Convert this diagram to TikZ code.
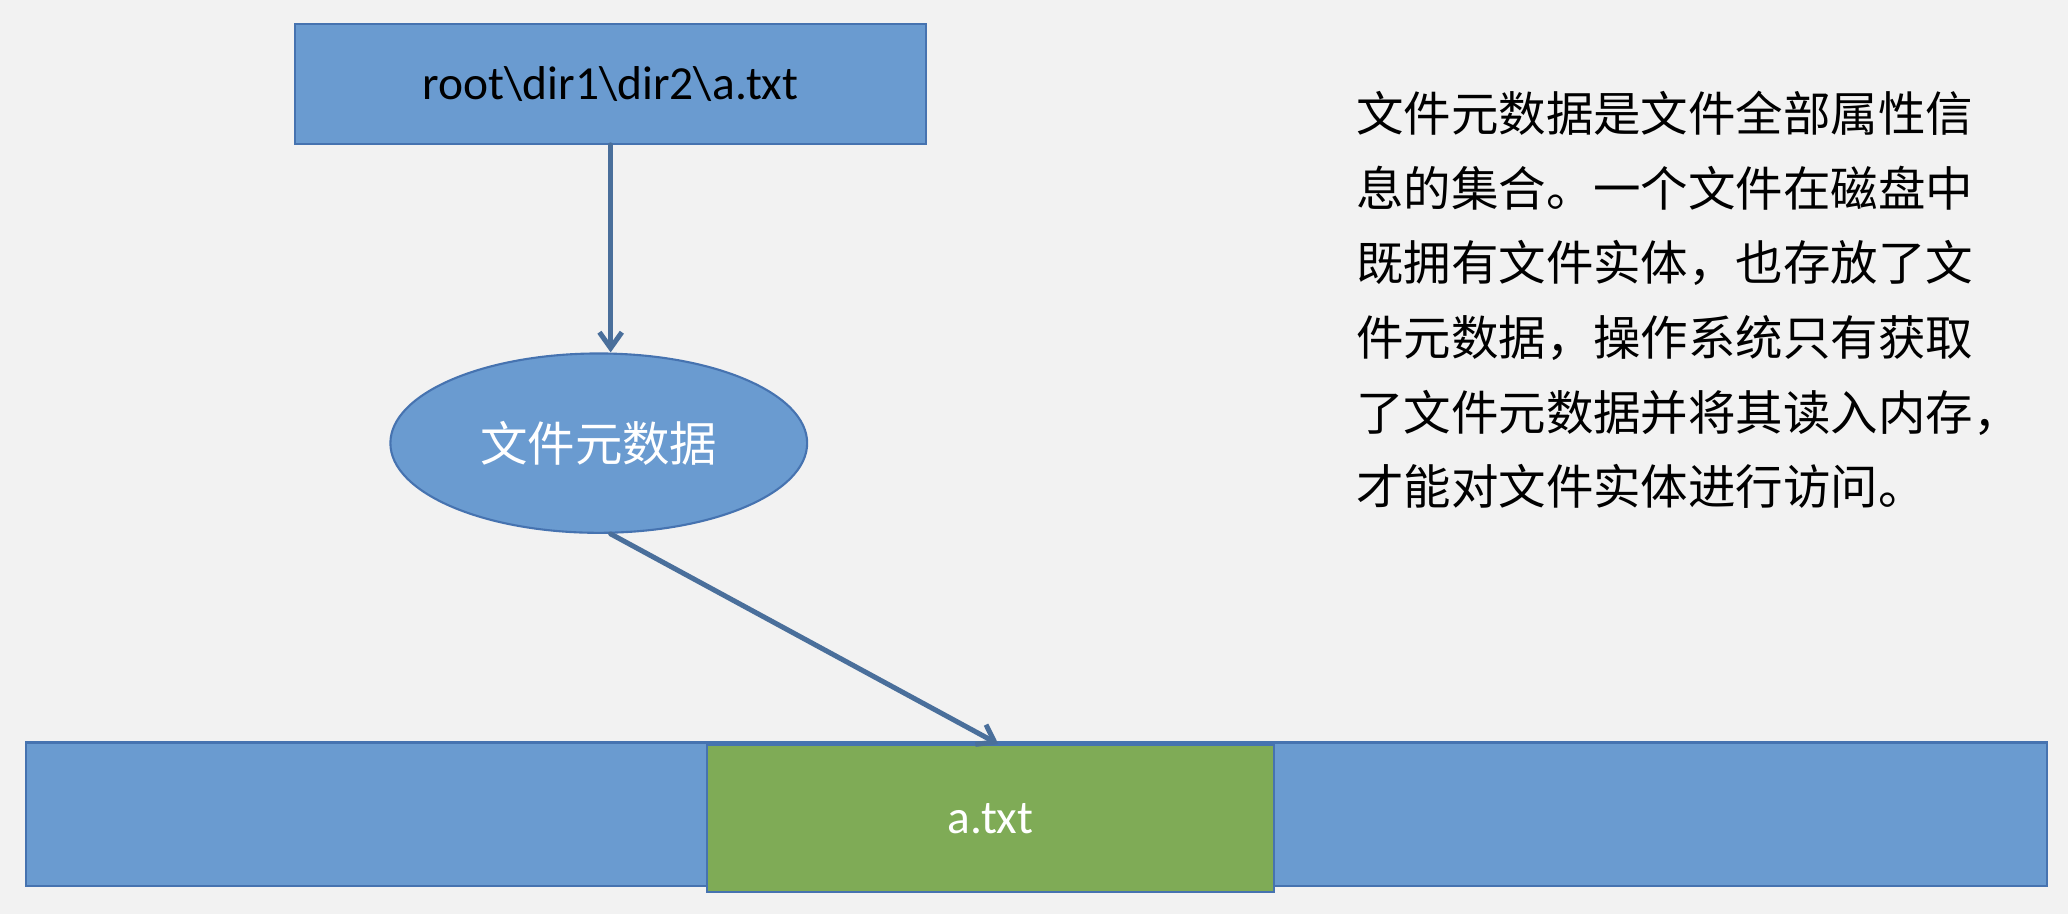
\documentclass[tikz,border=0pt]{standalone}
\usepackage{fontspec}
\setmainfont{Carlito}
\newfontfamily\cjk{Noto Sans CJK SC}
\usetikzlibrary{arrows.meta,shapes.geometric,calc}
\definecolor{bg}{HTML}{F2F2F2}
\definecolor{bluefill}{HTML}{6A9BD0}
\definecolor{blueline}{HTML}{4673B0}
\definecolor{greenfill}{HTML}{7FAB56}
\definecolor{arrowcol}{HTML}{4A6F9B}
\tikzset{
  bluebox/.style={draw=blueline, line width=1.6pt, fill=bluefill, inner sep=0pt},
  greenbox/.style={draw=blueline, line width=1.6pt, fill=greenfill, inner sep=0pt, text=white},
  blueoval/.style={ellipse, draw=blueline, line width=1.6pt, fill=bluefill, inner sep=0pt, text=white},
  link/.style={draw=arrowcol, line width=3.8pt, line cap=round,
    -{Straight Barb[length=12pt,width=17pt,line width=3.8pt]}},
  labeltxt/.style={font=\fontsize{36}{40}\selectfont},
  cjktxt/.style={font=\cjk\fontsize{36}{40}\selectfont}
}
\begin{document}
\begin{tikzpicture}[x=1pt,y=-1pt]
\fill[bg] (0,0) rectangle (1568,693);
\useasboundingbox (0,0) rectangle (1568,693);

\node[bluebox, minimum width=478pt, minimum height=91pt, labeltxt] (path) at (463,63.5) {root\textbackslash dir1\textbackslash dir2\textbackslash a.txt};

\node[blueoval, minimum width=316pt, minimum height=136pt, cjktxt] (meta) at (454,336) {文件元数据};

\node[bluebox, minimum width=1532pt, minimum height=109pt] (disk) at (786,617.5) {};
\node[greenbox, minimum width=430pt, minimum height=111pt, labeltxt] (file) at (751,620.5) {a.txt};

\draw[link] (path.south) -- (path.south |- meta.north);
\coordinate (mstart) at ($(meta.south)+(9,0)$);
\coordinate (fend) at ($(file.north)+(6,0)$);
\draw[link] (mstart) -- (fend);

\node[anchor=north west, inner sep=0pt, align=left,
  font=\cjk\fontsize{36}{56.6}\selectfont] (desc) at (1028,69)
  {文件元数据是文件全部属性信\\
   息的集合。一个文件在磁盘中\\
   既拥有文件实体，也存放了文\\
   件元数据，操作系统只有获取\\
   了文件元数据并将其读入内存，\\
   才能对文件实体进行访问。};
\end{tikzpicture}
\end{document}
